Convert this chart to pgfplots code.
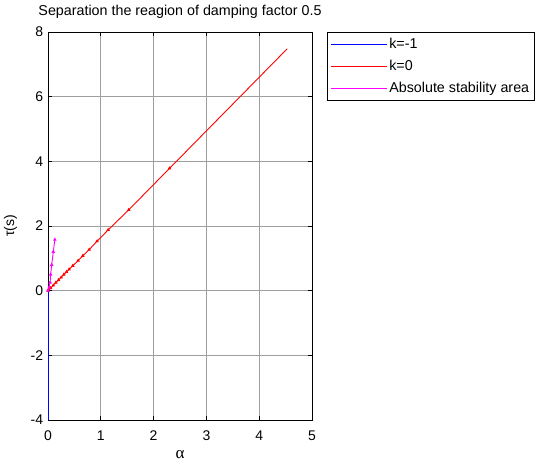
\documentclass[border=0pt]{standalone}
\usepackage{fontspec}
\setmainfont{Liberation Sans}
\newfontfamily\symfont{Liberation Serif}
\usepackage{pgfplots}
\pgfplotsset{compat=1.18}
\definecolor{mblue}{RGB}{0,0,255}
\definecolor{mred}{RGB}{255,0,0}
\definecolor{mmag}{RGB}{255,0,255}
\begin{document}
\fontsize{14bp}{16bp}\selectfont
\begin{tikzpicture}
\begin{axis}[
    scale only axis,
    width=264bp, height=388bp,
    xmin=0, xmax=5, ymin=-4, ymax=8,
    xtick={0,1,2,3,4,5}, ytick={-4,-2,0,2,4,6,8},
    xticklabels={0,1,2,3,4,5},
    yticklabels={-4,-2,0,2,4,6,8},
    tick align=inside,
    major tick length=4bp,
    grid=major,
    major grid style={gray!75, line width=0.6bp},
    axis line style={black, line width=0.7bp},
    tick style={black, line width=0.7bp},
    ticklabel style={font=\fontsize{14bp}{16bp}\selectfont},
    xticklabel style={anchor=base, yshift=-20bp},
    title={Separation the reagion of damping factor 0.5},
    title style={at={(0.5,1)}, anchor=base, yshift=11bp, font=\fontsize{14.3bp}{16bp}\selectfont},
    xlabel={{\symfont\fontsize{17bp}{18bp}\selectfont α}},
    xlabel style={at={(axis description cs:0.5,0)}, anchor=base, yshift=-38bp},
    ylabel={τ(s)},
    ylabel style={at={(axis description cs:-0.0985,0.5)}, anchor=south},
    legend style={at={(1.057,1)}, anchor=north west, draw=black, line width=0.7bp,
        font=\fontsize{14.3bp}{16bp}\selectfont, inner xsep=3bp, inner ysep=4bp,
        row sep=5.5bp},
    legend cell align=left,
    legend image code/.code={\path (0bp,0bp) -- (56bp,0bp);
        \draw[#1, line width=0.7bp] (9bp,0bp) -- (54bp,0bp);},
]
\addplot[mblue, line width=0.9bp] coordinates {(0,0) (0,-4)};
\addlegendentry{k=-1}
\addplot[mred, line width=0.9bp, mark=triangle*, mark size=1.2pt] coordinates {
(0,0) (0.05,0.08) (0.1,0.165) (0.15,0.25) (0.2,0.33) (0.25,0.41) (0.3,0.5)
(0.35,0.58) (0.4,0.66) (0.47,0.77) (0.57,0.93) (0.66,1.08) (0.78,1.27)
(0.93,1.53) (1.14,1.88) (1.53,2.5) (2.3,3.78)};
\addlegendentry{k=0}
\addplot[mmag, line width=0.9bp, mark=triangle*, mark size=1.2pt] coordinates {
(0,0) (0.02,0.1) (0.04,0.25) (0.05,0.5) (0.07,0.8) (0.1,1.2) (0.13,1.58)};
\addlegendentry{Absolute stability area}
\addplot[mred, line width=0.9bp, forget plot] coordinates {(2.3,3.78) (4.53,7.48)};
\end{axis}
\pgfresetboundingbox
\path (current axis.south west) ++(-48bp,-44bp) rectangle ++(539bp,464bp);
\end{tikzpicture}
\end{document}
